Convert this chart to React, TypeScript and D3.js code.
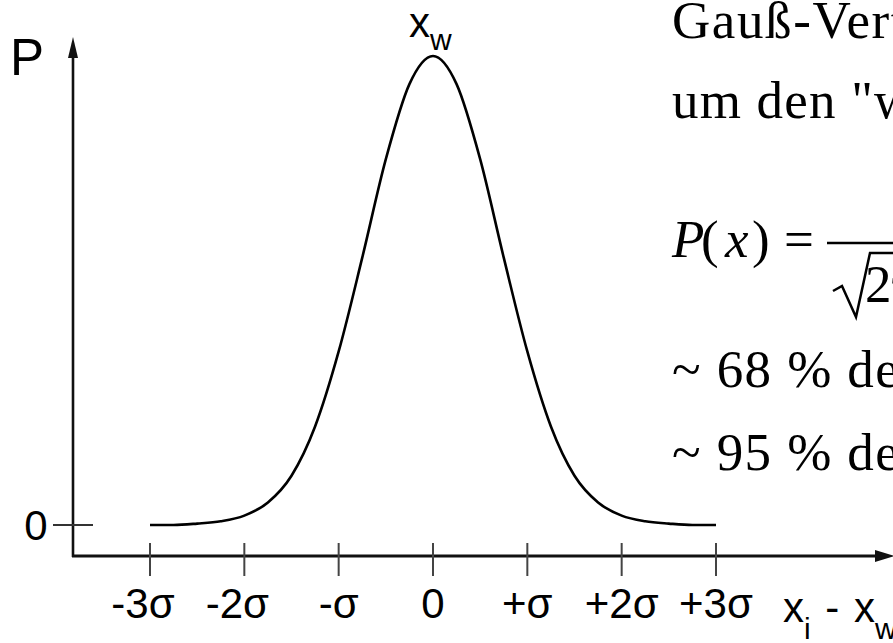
import React from "react"
import * as d3 from "d3"

// curve, x in sigma units, P relative to the peak
const curveX = [-3, -2.75, -2.5, -2.25, -2, -1.75, -1.5, -1.25, -1, -0.75, -0.5, -0.25, 0,
  0.25, 0.5, 0.75, 1, 1.25, 1.5, 1.75, 2, 2.25, 2.5, 2.75, 3]
const curveP = [0, 0, 0.003, 0.008, 0.02, 0.048, 0.105, 0.21, 0.37, 0.57, 0.78, 0.94, 1,
  0.94, 0.78, 0.57, 0.37, 0.21, 0.105, 0.048, 0.02, 0.008, 0.003, 0, 0]

const tickValues = [-3, -2, -1, 0, 1, 2, 3]
const tickLabels = ["-3σ", "-2σ", "-σ", "0", "+σ", "+2σ", "+3σ"]

const textLines = [
  "Gauß-Verteilung",
  "um den \"wahren\" Wert",
  "~ 68 % der Messwerte liegen in x ± σ",
  "~ 95 % der Messwerte liegen in x ± 2σ",
]

const W = 893
const H = 643
const sans = "'Liberation Sans', Arial, sans-serif"
const serif = "'Liberation Serif', 'Times New Roman', serif"

export default function App() {
  const x = d3.scaleLinear().domain([-3, 3]).range([150, 716])
  const y = d3.scaleLinear().domain([0, 1]).range([525, 56])

  const line = d3.line<number>()
    .x((d, i) => x(curveX[i]))
    .y(d => y(d))
    .curve(d3.curveMonotoneX)

  const axisX = 73
  const axisY = 556
  const ink = "#111"

  return (
    <svg width={W} height={H} style={{ position: "absolute", left: 0, top: 0, background: "#fff" }}>
      {/* y axis with arrow */}
      <line x1={axisX} y1={46} x2={axisX} y2={axisY + 1} stroke={ink} strokeWidth={2.6} />
      <path d={`M${axisX},37 L${axisX - 5},58 L${axisX + 5},58 Z`} fill={ink} />
      {/* x axis with arrow */}
      <line x1={axisX - 1} y1={axisY} x2={884} y2={axisY} stroke={ink} strokeWidth={2.8} />
      <path d={`M895,${axisY} L875,${axisY - 6} L875,${axisY + 6} Z`} fill={ink} />

      {/* zero tick on y */}
      <line x1={53} y1={y(0)} x2={93} y2={y(0)} stroke="#333" strokeWidth={2} />
      <text x={36} y={y(0) + 15} fontFamily={sans} fontSize={42} textAnchor="middle">0</text>
      <text x={10} y={75} fontFamily={sans} fontSize={51}>P</text>

      {/* x ticks */}
      {tickValues.map((t, i) => (
        <g key={t}>
          <line x1={x(t)} y1={543} x2={x(t)} y2={576} stroke="#444" strokeWidth={2} />
          <text x={x(t) + (t < -1 ? -7 : 0)} y={618} fontFamily={sans} fontSize={42} textAnchor="middle">{tickLabels[i]}</text>
        </g>
      ))}

      {/* x axis label */}
      <text x={783} y={622} fontFamily={sans} fontSize={42}>
        x<tspan fontSize={30} dy={17}>i</tspan><tspan dy={-17} dx={3}> - </tspan><tspan dx={3}>x</tspan><tspan fontSize={30} dy={17}>w</tspan>
      </text>

      {/* peak label */}
      <text x={409} y={37} fontFamily={sans} fontSize={42}>
        x<tspan fontSize={30} dy={13}>w</tspan>
      </text>

      {/* the curve */}
      <path d={line(curveP) ?? ""} fill="none" stroke="#000" strokeWidth={2.6} />

      {/* text block on the right */}
      <g fontFamily={serif} fontSize={53} fill="#000">
        <text x={672} y={38} letterSpacing={1.6}>{textLines[0]}</text>
        <text x={672} y={118} letterSpacing={1.2}>{textLines[1]}</text>
        <text x={672} y={257} fontStyle="italic">P</text>
        <text x={701} y={257}>(</text>
        <text x={725} y={257} fontStyle="italic">x</text>
        <text x={752} y={257}>)</text>
        <text x={784} y={257}>=</text>
        <line x1={827} y1={243} x2={1000} y2={243} stroke="#000" strokeWidth={2.5} />
        <text x={940} y={228} textAnchor="middle">1</text>
        <path d="M833,291 L842,286 L856,317 L870,253 L1000,253" fill="none" stroke="#000" strokeWidth={2.5} />
        <text x={865} y={302}>2πσ</text>
        <text x={672} y={387} letterSpacing={1.4}>{textLines[2]}</text>
        <text x={672} y={470} letterSpacing={1.4}>{textLines[3]}</text>
      </g>
    </svg>
  )
}
